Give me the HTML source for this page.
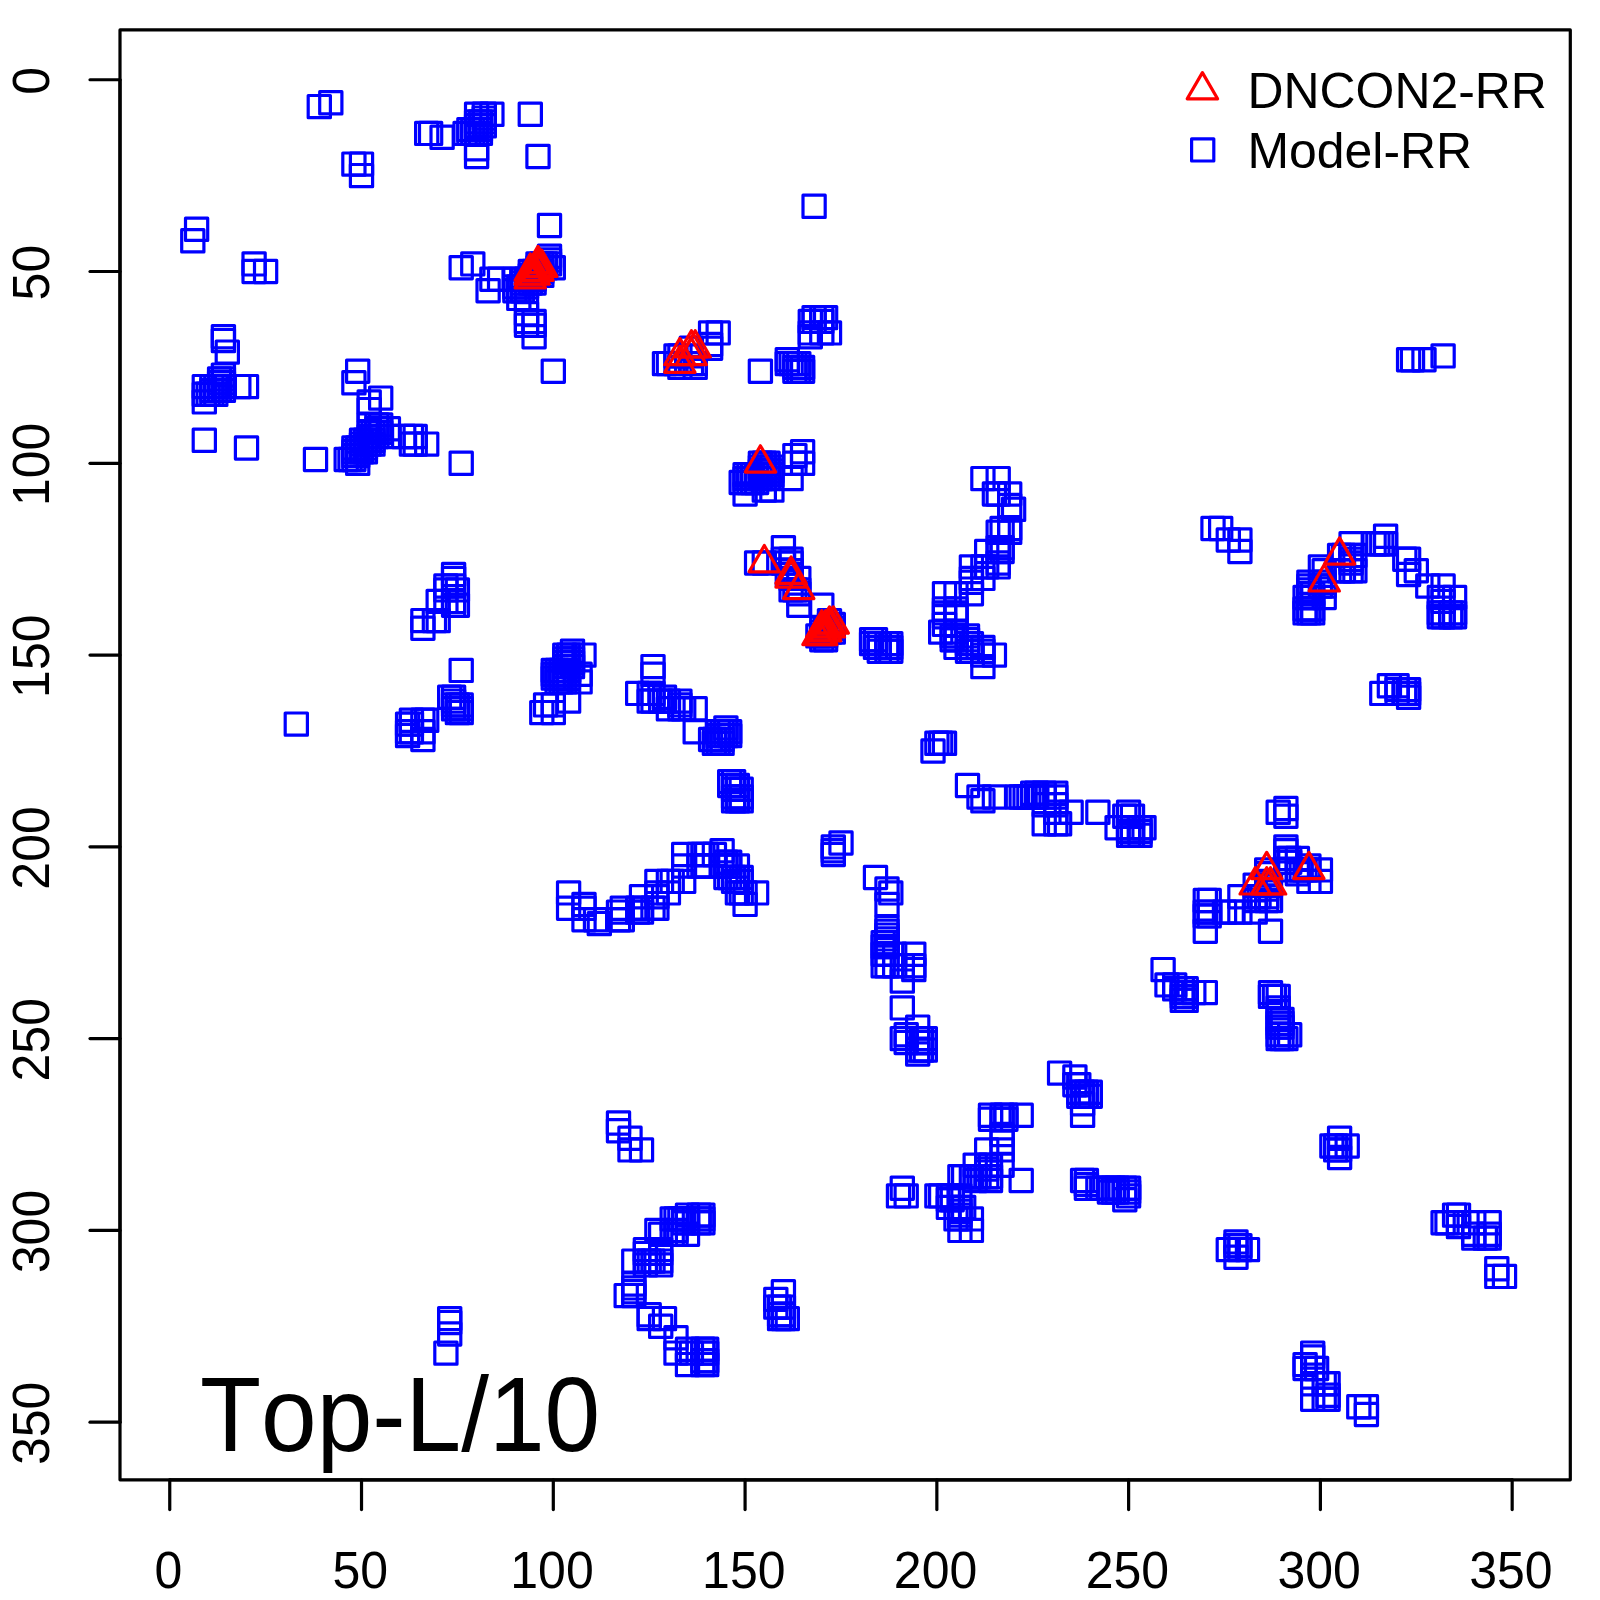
<!DOCTYPE html>
<html><head><meta charset="utf-8"><title>Top-L/10</title>
<style>
html,body{margin:0;padding:0;background:#fff;}
body{width:1600px;height:1600px;overflow:hidden;}
svg{display:block;}
text{font-family:"Liberation Sans",sans-serif;fill:#000;}
.ax{font-size:50px;}
.lg{font-size:49.9px;}
.sq rect{fill:none;stroke:#0000ff;stroke-width:3.2;stroke-linejoin:round}
  .tr path{fill:none;stroke:#ff0000;stroke-width:3.2;stroke-linejoin:round}
.ln{stroke:#000;stroke-width:3.2;stroke-linecap:round;fill:none}
</style></head><body>
<svg width="1600" height="1600" viewBox="0 0 1600 1600">
<rect x="0" y="0" width="1600" height="1600" fill="#fff"/>

<g class="sq">
<rect x="308.2" y="95.5" width="22.2" height="22.2"/>
<rect x="319.7" y="91.7" width="22.2" height="22.2"/>
<rect x="342.8" y="153.0" width="22.2" height="22.2"/>
<rect x="350.4" y="153.0" width="22.2" height="22.2"/>
<rect x="350.4" y="164.5" width="22.2" height="22.2"/>
<rect x="415.6" y="122.3" width="22.2" height="22.2"/>
<rect x="419.5" y="122.3" width="22.2" height="22.2"/>
<rect x="431.0" y="126.2" width="22.2" height="22.2"/>
<rect x="450.1" y="256.6" width="22.2" height="22.2"/>
<rect x="454.0" y="122.3" width="22.2" height="22.2"/>
<rect x="457.8" y="118.5" width="22.2" height="22.2"/>
<rect x="457.8" y="122.3" width="22.2" height="22.2"/>
<rect x="461.7" y="118.5" width="22.2" height="22.2"/>
<rect x="461.7" y="122.3" width="22.2" height="22.2"/>
<rect x="461.7" y="252.8" width="22.2" height="22.2"/>
<rect x="465.5" y="103.2" width="22.2" height="22.2"/>
<rect x="465.5" y="110.8" width="22.2" height="22.2"/>
<rect x="465.5" y="114.7" width="22.2" height="22.2"/>
<rect x="465.5" y="118.5" width="22.2" height="22.2"/>
<rect x="465.5" y="122.3" width="22.2" height="22.2"/>
<rect x="465.5" y="137.7" width="22.2" height="22.2"/>
<rect x="465.5" y="145.4" width="22.2" height="22.2"/>
<rect x="469.3" y="110.8" width="22.2" height="22.2"/>
<rect x="469.3" y="114.7" width="22.2" height="22.2"/>
<rect x="469.3" y="118.5" width="22.2" height="22.2"/>
<rect x="469.3" y="122.3" width="22.2" height="22.2"/>
<rect x="473.2" y="103.2" width="22.2" height="22.2"/>
<rect x="473.2" y="107.0" width="22.2" height="22.2"/>
<rect x="473.2" y="110.8" width="22.2" height="22.2"/>
<rect x="473.2" y="114.7" width="22.2" height="22.2"/>
<rect x="477.0" y="279.6" width="22.2" height="22.2"/>
<rect x="480.8" y="103.2" width="22.2" height="22.2"/>
<rect x="480.8" y="268.1" width="22.2" height="22.2"/>
<rect x="488.5" y="268.1" width="22.2" height="22.2"/>
<rect x="503.8" y="268.1" width="22.2" height="22.2"/>
<rect x="503.8" y="275.8" width="22.2" height="22.2"/>
<rect x="503.8" y="279.6" width="22.2" height="22.2"/>
<rect x="507.7" y="275.8" width="22.2" height="22.2"/>
<rect x="507.7" y="279.6" width="22.2" height="22.2"/>
<rect x="507.7" y="287.3" width="22.2" height="22.2"/>
<rect x="511.5" y="268.1" width="22.2" height="22.2"/>
<rect x="511.5" y="271.9" width="22.2" height="22.2"/>
<rect x="511.5" y="275.8" width="22.2" height="22.2"/>
<rect x="511.5" y="279.6" width="22.2" height="22.2"/>
<rect x="515.4" y="268.1" width="22.2" height="22.2"/>
<rect x="515.4" y="271.9" width="22.2" height="22.2"/>
<rect x="515.4" y="275.8" width="22.2" height="22.2"/>
<rect x="515.4" y="287.3" width="22.2" height="22.2"/>
<rect x="515.4" y="302.6" width="22.2" height="22.2"/>
<rect x="515.4" y="310.3" width="22.2" height="22.2"/>
<rect x="515.4" y="314.1" width="22.2" height="22.2"/>
<rect x="519.2" y="103.2" width="22.2" height="22.2"/>
<rect x="519.2" y="260.4" width="22.2" height="22.2"/>
<rect x="519.2" y="264.3" width="22.2" height="22.2"/>
<rect x="519.2" y="268.1" width="22.2" height="22.2"/>
<rect x="519.2" y="271.9" width="22.2" height="22.2"/>
<rect x="523.0" y="260.4" width="22.2" height="22.2"/>
<rect x="523.0" y="264.3" width="22.2" height="22.2"/>
<rect x="523.0" y="268.1" width="22.2" height="22.2"/>
<rect x="523.0" y="271.9" width="22.2" height="22.2"/>
<rect x="523.0" y="310.3" width="22.2" height="22.2"/>
<rect x="523.0" y="314.1" width="22.2" height="22.2"/>
<rect x="523.0" y="325.6" width="22.2" height="22.2"/>
<rect x="526.9" y="145.4" width="22.2" height="22.2"/>
<rect x="526.9" y="252.8" width="22.2" height="22.2"/>
<rect x="526.9" y="256.6" width="22.2" height="22.2"/>
<rect x="526.9" y="260.4" width="22.2" height="22.2"/>
<rect x="526.9" y="264.3" width="22.2" height="22.2"/>
<rect x="530.7" y="252.8" width="22.2" height="22.2"/>
<rect x="530.7" y="256.6" width="22.2" height="22.2"/>
<rect x="530.7" y="260.4" width="22.2" height="22.2"/>
<rect x="530.7" y="264.3" width="22.2" height="22.2"/>
<rect x="534.5" y="252.8" width="22.2" height="22.2"/>
<rect x="534.5" y="256.6" width="22.2" height="22.2"/>
<rect x="538.4" y="214.4" width="22.2" height="22.2"/>
<rect x="538.4" y="245.1" width="22.2" height="22.2"/>
<rect x="538.4" y="248.9" width="22.2" height="22.2"/>
<rect x="538.4" y="252.8" width="22.2" height="22.2"/>
<rect x="542.2" y="256.6" width="22.2" height="22.2"/>
<rect x="542.2" y="360.1" width="22.2" height="22.2"/>
<rect x="653.4" y="352.5" width="22.2" height="22.2"/>
<rect x="657.3" y="352.5" width="22.2" height="22.2"/>
<rect x="664.9" y="344.8" width="22.2" height="22.2"/>
<rect x="664.9" y="352.5" width="22.2" height="22.2"/>
<rect x="668.8" y="344.8" width="22.2" height="22.2"/>
<rect x="668.8" y="356.3" width="22.2" height="22.2"/>
<rect x="680.3" y="337.1" width="22.2" height="22.2"/>
<rect x="680.3" y="344.8" width="22.2" height="22.2"/>
<rect x="680.3" y="352.5" width="22.2" height="22.2"/>
<rect x="684.1" y="352.5" width="22.2" height="22.2"/>
<rect x="684.1" y="356.3" width="22.2" height="22.2"/>
<rect x="699.5" y="321.8" width="22.2" height="22.2"/>
<rect x="699.5" y="333.3" width="22.2" height="22.2"/>
<rect x="699.5" y="337.1" width="22.2" height="22.2"/>
<rect x="707.1" y="321.8" width="22.2" height="22.2"/>
<rect x="730.1" y="471.4" width="22.2" height="22.2"/>
<rect x="734.0" y="463.7" width="22.2" height="22.2"/>
<rect x="734.0" y="467.5" width="22.2" height="22.2"/>
<rect x="734.0" y="471.4" width="22.2" height="22.2"/>
<rect x="734.0" y="482.9" width="22.2" height="22.2"/>
<rect x="737.8" y="463.7" width="22.2" height="22.2"/>
<rect x="737.8" y="467.5" width="22.2" height="22.2"/>
<rect x="737.8" y="471.4" width="22.2" height="22.2"/>
<rect x="741.6" y="463.7" width="22.2" height="22.2"/>
<rect x="741.6" y="467.5" width="22.2" height="22.2"/>
<rect x="741.6" y="471.4" width="22.2" height="22.2"/>
<rect x="745.5" y="463.7" width="22.2" height="22.2"/>
<rect x="745.5" y="467.5" width="22.2" height="22.2"/>
<rect x="745.5" y="471.4" width="22.2" height="22.2"/>
<rect x="745.5" y="551.9" width="22.2" height="22.2"/>
<rect x="749.3" y="360.1" width="22.2" height="22.2"/>
<rect x="749.3" y="452.2" width="22.2" height="22.2"/>
<rect x="749.3" y="456.0" width="22.2" height="22.2"/>
<rect x="749.3" y="459.9" width="22.2" height="22.2"/>
<rect x="749.3" y="463.7" width="22.2" height="22.2"/>
<rect x="749.3" y="467.5" width="22.2" height="22.2"/>
<rect x="753.2" y="452.2" width="22.2" height="22.2"/>
<rect x="753.2" y="456.0" width="22.2" height="22.2"/>
<rect x="753.2" y="459.9" width="22.2" height="22.2"/>
<rect x="753.2" y="463.7" width="22.2" height="22.2"/>
<rect x="753.2" y="467.5" width="22.2" height="22.2"/>
<rect x="753.2" y="479.0" width="22.2" height="22.2"/>
<rect x="753.2" y="551.9" width="22.2" height="22.2"/>
<rect x="757.0" y="452.2" width="22.2" height="22.2"/>
<rect x="757.0" y="456.0" width="22.2" height="22.2"/>
<rect x="757.0" y="459.9" width="22.2" height="22.2"/>
<rect x="757.0" y="463.7" width="22.2" height="22.2"/>
<rect x="757.0" y="467.5" width="22.2" height="22.2"/>
<rect x="760.8" y="456.0" width="22.2" height="22.2"/>
<rect x="760.8" y="459.9" width="22.2" height="22.2"/>
<rect x="760.8" y="463.7" width="22.2" height="22.2"/>
<rect x="760.8" y="479.0" width="22.2" height="22.2"/>
<rect x="772.3" y="536.6" width="22.2" height="22.2"/>
<rect x="772.3" y="548.1" width="22.2" height="22.2"/>
<rect x="772.3" y="551.9" width="22.2" height="22.2"/>
<rect x="776.2" y="348.6" width="22.2" height="22.2"/>
<rect x="776.2" y="352.5" width="22.2" height="22.2"/>
<rect x="776.2" y="563.4" width="22.2" height="22.2"/>
<rect x="780.0" y="352.5" width="22.2" height="22.2"/>
<rect x="780.0" y="467.5" width="22.2" height="22.2"/>
<rect x="780.0" y="548.1" width="22.2" height="22.2"/>
<rect x="780.0" y="551.9" width="22.2" height="22.2"/>
<rect x="780.0" y="559.6" width="22.2" height="22.2"/>
<rect x="780.0" y="563.4" width="22.2" height="22.2"/>
<rect x="780.0" y="567.3" width="22.2" height="22.2"/>
<rect x="780.0" y="578.8" width="22.2" height="22.2"/>
<rect x="783.8" y="352.5" width="22.2" height="22.2"/>
<rect x="783.8" y="356.3" width="22.2" height="22.2"/>
<rect x="783.8" y="360.1" width="22.2" height="22.2"/>
<rect x="783.8" y="444.5" width="22.2" height="22.2"/>
<rect x="783.8" y="452.2" width="22.2" height="22.2"/>
<rect x="783.8" y="578.8" width="22.2" height="22.2"/>
<rect x="787.7" y="352.5" width="22.2" height="22.2"/>
<rect x="787.7" y="356.3" width="22.2" height="22.2"/>
<rect x="787.7" y="360.1" width="22.2" height="22.2"/>
<rect x="787.7" y="567.3" width="22.2" height="22.2"/>
<rect x="787.7" y="578.8" width="22.2" height="22.2"/>
<rect x="787.7" y="582.6" width="22.2" height="22.2"/>
<rect x="787.7" y="594.1" width="22.2" height="22.2"/>
<rect x="791.5" y="356.3" width="22.2" height="22.2"/>
<rect x="791.5" y="360.1" width="22.2" height="22.2"/>
<rect x="791.5" y="440.7" width="22.2" height="22.2"/>
<rect x="791.5" y="452.2" width="22.2" height="22.2"/>
<rect x="799.2" y="310.3" width="22.2" height="22.2"/>
<rect x="799.2" y="321.8" width="22.2" height="22.2"/>
<rect x="799.2" y="325.6" width="22.2" height="22.2"/>
<rect x="803.0" y="195.2" width="22.2" height="22.2"/>
<rect x="803.0" y="306.5" width="22.2" height="22.2"/>
<rect x="803.0" y="310.3" width="22.2" height="22.2"/>
<rect x="806.8" y="624.8" width="22.2" height="22.2"/>
<rect x="810.7" y="306.5" width="22.2" height="22.2"/>
<rect x="810.7" y="310.3" width="22.2" height="22.2"/>
<rect x="810.7" y="321.8" width="22.2" height="22.2"/>
<rect x="810.7" y="594.1" width="22.2" height="22.2"/>
<rect x="810.7" y="617.1" width="22.2" height="22.2"/>
<rect x="810.7" y="621.0" width="22.2" height="22.2"/>
<rect x="810.7" y="624.8" width="22.2" height="22.2"/>
<rect x="810.7" y="628.6" width="22.2" height="22.2"/>
<rect x="814.5" y="306.5" width="22.2" height="22.2"/>
<rect x="814.5" y="617.1" width="22.2" height="22.2"/>
<rect x="814.5" y="621.0" width="22.2" height="22.2"/>
<rect x="814.5" y="624.8" width="22.2" height="22.2"/>
<rect x="814.5" y="628.6" width="22.2" height="22.2"/>
<rect x="818.4" y="321.8" width="22.2" height="22.2"/>
<rect x="818.4" y="609.5" width="22.2" height="22.2"/>
<rect x="818.4" y="613.3" width="22.2" height="22.2"/>
<rect x="818.4" y="617.1" width="22.2" height="22.2"/>
<rect x="818.4" y="621.0" width="22.2" height="22.2"/>
<rect x="822.2" y="613.3" width="22.2" height="22.2"/>
<rect x="822.2" y="617.1" width="22.2" height="22.2"/>
<rect x="822.2" y="621.0" width="22.2" height="22.2"/>
<rect x="860.5" y="628.6" width="22.2" height="22.2"/>
<rect x="860.5" y="632.5" width="22.2" height="22.2"/>
<rect x="864.4" y="628.6" width="22.2" height="22.2"/>
<rect x="864.4" y="632.5" width="22.2" height="22.2"/>
<rect x="864.4" y="636.3" width="22.2" height="22.2"/>
<rect x="868.2" y="632.5" width="22.2" height="22.2"/>
<rect x="868.2" y="636.3" width="22.2" height="22.2"/>
<rect x="868.2" y="640.1" width="22.2" height="22.2"/>
<rect x="875.9" y="632.5" width="22.2" height="22.2"/>
<rect x="875.9" y="636.3" width="22.2" height="22.2"/>
<rect x="875.9" y="640.1" width="22.2" height="22.2"/>
<rect x="879.7" y="632.5" width="22.2" height="22.2"/>
<rect x="879.7" y="636.3" width="22.2" height="22.2"/>
<rect x="879.7" y="640.1" width="22.2" height="22.2"/>
<rect x="921.9" y="739.9" width="22.2" height="22.2"/>
<rect x="925.8" y="732.2" width="22.2" height="22.2"/>
<rect x="929.6" y="621.0" width="22.2" height="22.2"/>
<rect x="929.6" y="732.2" width="22.2" height="22.2"/>
<rect x="933.4" y="582.6" width="22.2" height="22.2"/>
<rect x="933.4" y="597.9" width="22.2" height="22.2"/>
<rect x="933.4" y="601.8" width="22.2" height="22.2"/>
<rect x="933.4" y="605.6" width="22.2" height="22.2"/>
<rect x="933.4" y="613.3" width="22.2" height="22.2"/>
<rect x="933.4" y="732.2" width="22.2" height="22.2"/>
<rect x="941.1" y="624.8" width="22.2" height="22.2"/>
<rect x="941.1" y="628.6" width="22.2" height="22.2"/>
<rect x="944.9" y="582.6" width="22.2" height="22.2"/>
<rect x="944.9" y="597.9" width="22.2" height="22.2"/>
<rect x="944.9" y="601.8" width="22.2" height="22.2"/>
<rect x="944.9" y="605.6" width="22.2" height="22.2"/>
<rect x="944.9" y="621.0" width="22.2" height="22.2"/>
<rect x="944.9" y="624.8" width="22.2" height="22.2"/>
<rect x="944.9" y="628.6" width="22.2" height="22.2"/>
<rect x="944.9" y="636.3" width="22.2" height="22.2"/>
<rect x="956.4" y="624.8" width="22.2" height="22.2"/>
<rect x="956.4" y="628.6" width="22.2" height="22.2"/>
<rect x="956.4" y="632.5" width="22.2" height="22.2"/>
<rect x="956.4" y="636.3" width="22.2" height="22.2"/>
<rect x="956.4" y="640.1" width="22.2" height="22.2"/>
<rect x="956.4" y="774.4" width="22.2" height="22.2"/>
<rect x="960.3" y="555.8" width="22.2" height="22.2"/>
<rect x="960.3" y="567.3" width="22.2" height="22.2"/>
<rect x="960.3" y="571.1" width="22.2" height="22.2"/>
<rect x="960.3" y="582.6" width="22.2" height="22.2"/>
<rect x="960.3" y="632.5" width="22.2" height="22.2"/>
<rect x="960.3" y="636.3" width="22.2" height="22.2"/>
<rect x="960.3" y="640.1" width="22.2" height="22.2"/>
<rect x="967.9" y="785.9" width="22.2" height="22.2"/>
<rect x="971.8" y="467.5" width="22.2" height="22.2"/>
<rect x="971.8" y="555.8" width="22.2" height="22.2"/>
<rect x="971.8" y="567.3" width="22.2" height="22.2"/>
<rect x="971.8" y="636.3" width="22.2" height="22.2"/>
<rect x="971.8" y="640.1" width="22.2" height="22.2"/>
<rect x="971.8" y="644.0" width="22.2" height="22.2"/>
<rect x="971.8" y="655.5" width="22.2" height="22.2"/>
<rect x="971.8" y="789.7" width="22.2" height="22.2"/>
<rect x="975.6" y="540.4" width="22.2" height="22.2"/>
<rect x="975.6" y="555.8" width="22.2" height="22.2"/>
<rect x="983.3" y="482.9" width="22.2" height="22.2"/>
<rect x="983.3" y="644.0" width="22.2" height="22.2"/>
<rect x="983.3" y="785.9" width="22.2" height="22.2"/>
<rect x="987.1" y="467.5" width="22.2" height="22.2"/>
<rect x="987.1" y="482.9" width="22.2" height="22.2"/>
<rect x="987.1" y="521.2" width="22.2" height="22.2"/>
<rect x="987.1" y="536.6" width="22.2" height="22.2"/>
<rect x="987.1" y="540.4" width="22.2" height="22.2"/>
<rect x="987.1" y="551.9" width="22.2" height="22.2"/>
<rect x="987.1" y="555.8" width="22.2" height="22.2"/>
<rect x="991.0" y="517.4" width="22.2" height="22.2"/>
<rect x="991.0" y="536.6" width="22.2" height="22.2"/>
<rect x="991.0" y="540.4" width="22.2" height="22.2"/>
<rect x="998.6" y="482.9" width="22.2" height="22.2"/>
<rect x="998.6" y="494.4" width="22.2" height="22.2"/>
<rect x="998.6" y="517.4" width="22.2" height="22.2"/>
<rect x="998.6" y="521.2" width="22.2" height="22.2"/>
<rect x="1002.5" y="498.2" width="22.2" height="22.2"/>
<rect x="1006.3" y="785.9" width="22.2" height="22.2"/>
<rect x="1010.1" y="785.9" width="22.2" height="22.2"/>
<rect x="1014.0" y="785.9" width="22.2" height="22.2"/>
<rect x="1017.8" y="785.9" width="22.2" height="22.2"/>
<rect x="1021.6" y="782.1" width="22.2" height="22.2"/>
<rect x="1021.6" y="785.9" width="22.2" height="22.2"/>
<rect x="1025.5" y="782.1" width="22.2" height="22.2"/>
<rect x="1025.5" y="785.9" width="22.2" height="22.2"/>
<rect x="1033.1" y="782.1" width="22.2" height="22.2"/>
<rect x="1033.1" y="785.9" width="22.2" height="22.2"/>
<rect x="1033.1" y="793.6" width="22.2" height="22.2"/>
<rect x="1033.1" y="812.7" width="22.2" height="22.2"/>
<rect x="1044.7" y="782.1" width="22.2" height="22.2"/>
<rect x="1044.7" y="785.9" width="22.2" height="22.2"/>
<rect x="1044.7" y="793.6" width="22.2" height="22.2"/>
<rect x="1044.7" y="801.2" width="22.2" height="22.2"/>
<rect x="1044.7" y="812.7" width="22.2" height="22.2"/>
<rect x="1048.5" y="812.7" width="22.2" height="22.2"/>
<rect x="1060.0" y="801.2" width="22.2" height="22.2"/>
<rect x="1086.8" y="801.2" width="22.2" height="22.2"/>
<rect x="1106.0" y="816.6" width="22.2" height="22.2"/>
<rect x="1113.7" y="805.1" width="22.2" height="22.2"/>
<rect x="1117.5" y="801.2" width="22.2" height="22.2"/>
<rect x="1117.5" y="816.6" width="22.2" height="22.2"/>
<rect x="1117.5" y="820.4" width="22.2" height="22.2"/>
<rect x="1117.5" y="824.2" width="22.2" height="22.2"/>
<rect x="1121.4" y="805.1" width="22.2" height="22.2"/>
<rect x="1121.4" y="816.6" width="22.2" height="22.2"/>
<rect x="1121.4" y="820.4" width="22.2" height="22.2"/>
<rect x="1121.4" y="824.2" width="22.2" height="22.2"/>
<rect x="1129.0" y="816.6" width="22.2" height="22.2"/>
<rect x="1129.0" y="820.4" width="22.2" height="22.2"/>
<rect x="1129.0" y="824.2" width="22.2" height="22.2"/>
<rect x="1132.9" y="816.6" width="22.2" height="22.2"/>
<rect x="1152.0" y="958.5" width="22.2" height="22.2"/>
<rect x="1155.9" y="973.8" width="22.2" height="22.2"/>
<rect x="1163.6" y="973.8" width="22.2" height="22.2"/>
<rect x="1163.6" y="977.7" width="22.2" height="22.2"/>
<rect x="1171.2" y="977.7" width="22.2" height="22.2"/>
<rect x="1171.2" y="981.5" width="22.2" height="22.2"/>
<rect x="1171.2" y="985.3" width="22.2" height="22.2"/>
<rect x="1171.2" y="989.2" width="22.2" height="22.2"/>
<rect x="1175.1" y="977.7" width="22.2" height="22.2"/>
<rect x="1175.1" y="981.5" width="22.2" height="22.2"/>
<rect x="1175.1" y="985.3" width="22.2" height="22.2"/>
<rect x="1175.1" y="989.2" width="22.2" height="22.2"/>
<rect x="1182.7" y="981.5" width="22.2" height="22.2"/>
<rect x="1194.2" y="889.4" width="22.2" height="22.2"/>
<rect x="1194.2" y="901.0" width="22.2" height="22.2"/>
<rect x="1194.2" y="904.8" width="22.2" height="22.2"/>
<rect x="1194.2" y="920.1" width="22.2" height="22.2"/>
<rect x="1194.2" y="981.5" width="22.2" height="22.2"/>
<rect x="1198.1" y="889.4" width="22.2" height="22.2"/>
<rect x="1198.1" y="901.0" width="22.2" height="22.2"/>
<rect x="1198.1" y="904.8" width="22.2" height="22.2"/>
<rect x="1201.9" y="517.4" width="22.2" height="22.2"/>
<rect x="1209.6" y="517.4" width="22.2" height="22.2"/>
<rect x="1213.4" y="901.0" width="22.2" height="22.2"/>
<rect x="1217.2" y="528.9" width="22.2" height="22.2"/>
<rect x="1221.1" y="901.0" width="22.2" height="22.2"/>
<rect x="1228.8" y="528.9" width="22.2" height="22.2"/>
<rect x="1228.8" y="540.4" width="22.2" height="22.2"/>
<rect x="1228.8" y="885.6" width="22.2" height="22.2"/>
<rect x="1228.8" y="901.0" width="22.2" height="22.2"/>
<rect x="1244.1" y="874.1" width="22.2" height="22.2"/>
<rect x="1244.1" y="885.6" width="22.2" height="22.2"/>
<rect x="1244.1" y="889.4" width="22.2" height="22.2"/>
<rect x="1244.1" y="901.0" width="22.2" height="22.2"/>
<rect x="1247.9" y="885.6" width="22.2" height="22.2"/>
<rect x="1255.6" y="858.8" width="22.2" height="22.2"/>
<rect x="1255.6" y="862.6" width="22.2" height="22.2"/>
<rect x="1255.6" y="870.3" width="22.2" height="22.2"/>
<rect x="1255.6" y="874.1" width="22.2" height="22.2"/>
<rect x="1255.6" y="877.9" width="22.2" height="22.2"/>
<rect x="1255.6" y="885.6" width="22.2" height="22.2"/>
<rect x="1255.6" y="889.4" width="22.2" height="22.2"/>
<rect x="1259.4" y="874.1" width="22.2" height="22.2"/>
<rect x="1259.4" y="889.4" width="22.2" height="22.2"/>
<rect x="1259.4" y="920.1" width="22.2" height="22.2"/>
<rect x="1259.4" y="981.5" width="22.2" height="22.2"/>
<rect x="1259.4" y="985.3" width="22.2" height="22.2"/>
<rect x="1263.3" y="985.3" width="22.2" height="22.2"/>
<rect x="1267.1" y="801.2" width="22.2" height="22.2"/>
<rect x="1267.1" y="985.3" width="22.2" height="22.2"/>
<rect x="1267.1" y="996.8" width="22.2" height="22.2"/>
<rect x="1267.1" y="1000.7" width="22.2" height="22.2"/>
<rect x="1267.1" y="1008.3" width="22.2" height="22.2"/>
<rect x="1267.1" y="1012.2" width="22.2" height="22.2"/>
<rect x="1267.1" y="1016.0" width="22.2" height="22.2"/>
<rect x="1267.1" y="1023.7" width="22.2" height="22.2"/>
<rect x="1267.1" y="1027.5" width="22.2" height="22.2"/>
<rect x="1270.9" y="1008.3" width="22.2" height="22.2"/>
<rect x="1270.9" y="1012.2" width="22.2" height="22.2"/>
<rect x="1270.9" y="1016.0" width="22.2" height="22.2"/>
<rect x="1270.9" y="1027.5" width="22.2" height="22.2"/>
<rect x="1274.8" y="797.4" width="22.2" height="22.2"/>
<rect x="1274.8" y="805.1" width="22.2" height="22.2"/>
<rect x="1274.8" y="835.8" width="22.2" height="22.2"/>
<rect x="1274.8" y="839.6" width="22.2" height="22.2"/>
<rect x="1274.8" y="847.3" width="22.2" height="22.2"/>
<rect x="1274.8" y="851.1" width="22.2" height="22.2"/>
<rect x="1274.8" y="858.8" width="22.2" height="22.2"/>
<rect x="1274.8" y="1027.5" width="22.2" height="22.2"/>
<rect x="1278.6" y="847.3" width="22.2" height="22.2"/>
<rect x="1278.6" y="851.1" width="22.2" height="22.2"/>
<rect x="1278.6" y="1023.7" width="22.2" height="22.2"/>
<rect x="1286.3" y="847.3" width="22.2" height="22.2"/>
<rect x="1286.3" y="858.8" width="22.2" height="22.2"/>
<rect x="1286.3" y="862.6" width="22.2" height="22.2"/>
<rect x="1290.1" y="858.8" width="22.2" height="22.2"/>
<rect x="1294.0" y="586.4" width="22.2" height="22.2"/>
<rect x="1294.0" y="597.9" width="22.2" height="22.2"/>
<rect x="1294.0" y="601.8" width="22.2" height="22.2"/>
<rect x="1294.0" y="858.8" width="22.2" height="22.2"/>
<rect x="1297.8" y="571.1" width="22.2" height="22.2"/>
<rect x="1297.8" y="574.9" width="22.2" height="22.2"/>
<rect x="1297.8" y="578.8" width="22.2" height="22.2"/>
<rect x="1297.8" y="582.6" width="22.2" height="22.2"/>
<rect x="1297.8" y="586.4" width="22.2" height="22.2"/>
<rect x="1297.8" y="597.9" width="22.2" height="22.2"/>
<rect x="1297.8" y="601.8" width="22.2" height="22.2"/>
<rect x="1297.8" y="854.9" width="22.2" height="22.2"/>
<rect x="1297.8" y="858.8" width="22.2" height="22.2"/>
<rect x="1297.8" y="870.3" width="22.2" height="22.2"/>
<rect x="1301.6" y="582.6" width="22.2" height="22.2"/>
<rect x="1301.6" y="586.4" width="22.2" height="22.2"/>
<rect x="1301.6" y="597.9" width="22.2" height="22.2"/>
<rect x="1301.6" y="601.8" width="22.2" height="22.2"/>
<rect x="1309.3" y="555.8" width="22.2" height="22.2"/>
<rect x="1309.3" y="574.9" width="22.2" height="22.2"/>
<rect x="1309.3" y="858.8" width="22.2" height="22.2"/>
<rect x="1309.3" y="870.3" width="22.2" height="22.2"/>
<rect x="1313.1" y="559.6" width="22.2" height="22.2"/>
<rect x="1313.1" y="571.1" width="22.2" height="22.2"/>
<rect x="1313.1" y="574.9" width="22.2" height="22.2"/>
<rect x="1313.1" y="586.4" width="22.2" height="22.2"/>
<rect x="1320.8" y="1134.9" width="22.2" height="22.2"/>
<rect x="1324.6" y="1134.9" width="22.2" height="22.2"/>
<rect x="1324.6" y="1138.8" width="22.2" height="22.2"/>
<rect x="1328.5" y="544.3" width="22.2" height="22.2"/>
<rect x="1328.5" y="559.6" width="22.2" height="22.2"/>
<rect x="1328.5" y="1127.2" width="22.2" height="22.2"/>
<rect x="1328.5" y="1138.8" width="22.2" height="22.2"/>
<rect x="1328.5" y="1146.4" width="22.2" height="22.2"/>
<rect x="1332.3" y="544.3" width="22.2" height="22.2"/>
<rect x="1332.3" y="559.6" width="22.2" height="22.2"/>
<rect x="1336.1" y="1134.9" width="22.2" height="22.2"/>
<rect x="1340.0" y="532.7" width="22.2" height="22.2"/>
<rect x="1340.0" y="544.3" width="22.2" height="22.2"/>
<rect x="1340.0" y="548.1" width="22.2" height="22.2"/>
<rect x="1340.0" y="551.9" width="22.2" height="22.2"/>
<rect x="1340.0" y="559.6" width="22.2" height="22.2"/>
<rect x="1343.8" y="544.3" width="22.2" height="22.2"/>
<rect x="1343.8" y="559.6" width="22.2" height="22.2"/>
<rect x="1363.0" y="532.7" width="22.2" height="22.2"/>
<rect x="1366.8" y="532.7" width="22.2" height="22.2"/>
<rect x="1370.7" y="532.7" width="22.2" height="22.2"/>
<rect x="1370.7" y="682.3" width="22.2" height="22.2"/>
<rect x="1374.5" y="525.1" width="22.2" height="22.2"/>
<rect x="1374.5" y="532.7" width="22.2" height="22.2"/>
<rect x="1378.3" y="674.7" width="22.2" height="22.2"/>
<rect x="1386.0" y="674.7" width="22.2" height="22.2"/>
<rect x="1386.0" y="678.5" width="22.2" height="22.2"/>
<rect x="1386.0" y="682.3" width="22.2" height="22.2"/>
<rect x="1393.7" y="548.1" width="22.2" height="22.2"/>
<rect x="1393.7" y="678.5" width="22.2" height="22.2"/>
<rect x="1393.7" y="682.3" width="22.2" height="22.2"/>
<rect x="1397.5" y="348.6" width="22.2" height="22.2"/>
<rect x="1397.5" y="548.1" width="22.2" height="22.2"/>
<rect x="1397.5" y="563.4" width="22.2" height="22.2"/>
<rect x="1397.5" y="678.5" width="22.2" height="22.2"/>
<rect x="1397.5" y="682.3" width="22.2" height="22.2"/>
<rect x="1397.5" y="686.2" width="22.2" height="22.2"/>
<rect x="1401.4" y="348.6" width="22.2" height="22.2"/>
<rect x="1405.2" y="559.6" width="22.2" height="22.2"/>
<rect x="1412.9" y="348.6" width="22.2" height="22.2"/>
<rect x="1416.7" y="574.9" width="22.2" height="22.2"/>
<rect x="1428.2" y="586.4" width="22.2" height="22.2"/>
<rect x="1428.2" y="601.8" width="22.2" height="22.2"/>
<rect x="1428.2" y="605.6" width="22.2" height="22.2"/>
<rect x="1432.0" y="344.8" width="22.2" height="22.2"/>
<rect x="1432.0" y="574.9" width="22.2" height="22.2"/>
<rect x="1432.0" y="590.3" width="22.2" height="22.2"/>
<rect x="1432.0" y="601.8" width="22.2" height="22.2"/>
<rect x="1432.0" y="605.6" width="22.2" height="22.2"/>
<rect x="1432.0" y="1211.6" width="22.2" height="22.2"/>
<rect x="1435.9" y="1211.6" width="22.2" height="22.2"/>
<rect x="1439.7" y="601.8" width="22.2" height="22.2"/>
<rect x="1439.7" y="605.6" width="22.2" height="22.2"/>
<rect x="1443.5" y="586.4" width="22.2" height="22.2"/>
<rect x="1443.5" y="601.8" width="22.2" height="22.2"/>
<rect x="1443.5" y="605.6" width="22.2" height="22.2"/>
<rect x="1443.5" y="1204.0" width="22.2" height="22.2"/>
<rect x="1447.4" y="1204.0" width="22.2" height="22.2"/>
<rect x="1447.4" y="1211.6" width="22.2" height="22.2"/>
<rect x="1447.4" y="1215.5" width="22.2" height="22.2"/>
<rect x="1462.7" y="1211.6" width="22.2" height="22.2"/>
<rect x="1462.7" y="1223.1" width="22.2" height="22.2"/>
<rect x="1462.7" y="1227.0" width="22.2" height="22.2"/>
<rect x="1474.2" y="1227.0" width="22.2" height="22.2"/>
<rect x="1478.1" y="1211.6" width="22.2" height="22.2"/>
<rect x="1478.1" y="1223.1" width="22.2" height="22.2"/>
<rect x="1478.1" y="1227.0" width="22.2" height="22.2"/>
<rect x="1485.7" y="1257.7" width="22.2" height="22.2"/>
<rect x="1485.7" y="1265.3" width="22.2" height="22.2"/>
<rect x="1493.4" y="1265.3" width="22.2" height="22.2"/>
<rect x="185.5" y="218.2" width="22.2" height="22.2"/>
<rect x="181.7" y="229.7" width="22.2" height="22.2"/>
<rect x="243.0" y="252.8" width="22.2" height="22.2"/>
<rect x="243.0" y="260.4" width="22.2" height="22.2"/>
<rect x="254.5" y="260.4" width="22.2" height="22.2"/>
<rect x="212.3" y="325.6" width="22.2" height="22.2"/>
<rect x="212.3" y="329.5" width="22.2" height="22.2"/>
<rect x="216.2" y="341.0" width="22.2" height="22.2"/>
<rect x="346.6" y="360.1" width="22.2" height="22.2"/>
<rect x="212.3" y="364.0" width="22.2" height="22.2"/>
<rect x="208.5" y="367.8" width="22.2" height="22.2"/>
<rect x="212.3" y="367.8" width="22.2" height="22.2"/>
<rect x="208.5" y="371.7" width="22.2" height="22.2"/>
<rect x="212.3" y="371.7" width="22.2" height="22.2"/>
<rect x="342.8" y="371.7" width="22.2" height="22.2"/>
<rect x="193.2" y="375.5" width="22.2" height="22.2"/>
<rect x="200.8" y="375.5" width="22.2" height="22.2"/>
<rect x="204.7" y="375.5" width="22.2" height="22.2"/>
<rect x="208.5" y="375.5" width="22.2" height="22.2"/>
<rect x="212.3" y="375.5" width="22.2" height="22.2"/>
<rect x="227.7" y="375.5" width="22.2" height="22.2"/>
<rect x="235.4" y="375.5" width="22.2" height="22.2"/>
<rect x="200.8" y="379.3" width="22.2" height="22.2"/>
<rect x="204.7" y="379.3" width="22.2" height="22.2"/>
<rect x="208.5" y="379.3" width="22.2" height="22.2"/>
<rect x="212.3" y="379.3" width="22.2" height="22.2"/>
<rect x="193.2" y="383.2" width="22.2" height="22.2"/>
<rect x="197.0" y="383.2" width="22.2" height="22.2"/>
<rect x="200.8" y="383.2" width="22.2" height="22.2"/>
<rect x="204.7" y="383.2" width="22.2" height="22.2"/>
<rect x="369.6" y="387.0" width="22.2" height="22.2"/>
<rect x="193.2" y="390.8" width="22.2" height="22.2"/>
<rect x="358.1" y="390.8" width="22.2" height="22.2"/>
<rect x="358.1" y="398.5" width="22.2" height="22.2"/>
<rect x="358.1" y="413.8" width="22.2" height="22.2"/>
<rect x="365.8" y="413.8" width="22.2" height="22.2"/>
<rect x="369.6" y="413.8" width="22.2" height="22.2"/>
<rect x="365.8" y="417.7" width="22.2" height="22.2"/>
<rect x="369.6" y="417.7" width="22.2" height="22.2"/>
<rect x="377.3" y="417.7" width="22.2" height="22.2"/>
<rect x="358.1" y="421.5" width="22.2" height="22.2"/>
<rect x="361.9" y="421.5" width="22.2" height="22.2"/>
<rect x="365.8" y="421.5" width="22.2" height="22.2"/>
<rect x="369.6" y="421.5" width="22.2" height="22.2"/>
<rect x="358.1" y="425.4" width="22.2" height="22.2"/>
<rect x="361.9" y="425.4" width="22.2" height="22.2"/>
<rect x="365.8" y="425.4" width="22.2" height="22.2"/>
<rect x="377.3" y="425.4" width="22.2" height="22.2"/>
<rect x="392.6" y="425.4" width="22.2" height="22.2"/>
<rect x="400.3" y="425.4" width="22.2" height="22.2"/>
<rect x="404.1" y="425.4" width="22.2" height="22.2"/>
<rect x="193.2" y="429.2" width="22.2" height="22.2"/>
<rect x="350.4" y="429.2" width="22.2" height="22.2"/>
<rect x="354.3" y="429.2" width="22.2" height="22.2"/>
<rect x="358.1" y="429.2" width="22.2" height="22.2"/>
<rect x="361.9" y="429.2" width="22.2" height="22.2"/>
<rect x="350.4" y="433.0" width="22.2" height="22.2"/>
<rect x="354.3" y="433.0" width="22.2" height="22.2"/>
<rect x="358.1" y="433.0" width="22.2" height="22.2"/>
<rect x="361.9" y="433.0" width="22.2" height="22.2"/>
<rect x="400.3" y="433.0" width="22.2" height="22.2"/>
<rect x="404.1" y="433.0" width="22.2" height="22.2"/>
<rect x="415.6" y="433.0" width="22.2" height="22.2"/>
<rect x="235.4" y="436.9" width="22.2" height="22.2"/>
<rect x="342.8" y="436.9" width="22.2" height="22.2"/>
<rect x="346.6" y="436.9" width="22.2" height="22.2"/>
<rect x="350.4" y="436.9" width="22.2" height="22.2"/>
<rect x="354.3" y="436.9" width="22.2" height="22.2"/>
<rect x="342.8" y="440.7" width="22.2" height="22.2"/>
<rect x="346.6" y="440.7" width="22.2" height="22.2"/>
<rect x="350.4" y="440.7" width="22.2" height="22.2"/>
<rect x="354.3" y="440.7" width="22.2" height="22.2"/>
<rect x="342.8" y="444.5" width="22.2" height="22.2"/>
<rect x="346.6" y="444.5" width="22.2" height="22.2"/>
<rect x="304.4" y="448.4" width="22.2" height="22.2"/>
<rect x="335.1" y="448.4" width="22.2" height="22.2"/>
<rect x="338.9" y="448.4" width="22.2" height="22.2"/>
<rect x="342.8" y="448.4" width="22.2" height="22.2"/>
<rect x="346.6" y="452.2" width="22.2" height="22.2"/>
<rect x="450.1" y="452.2" width="22.2" height="22.2"/>
<rect x="442.5" y="563.4" width="22.2" height="22.2"/>
<rect x="442.5" y="567.3" width="22.2" height="22.2"/>
<rect x="434.8" y="574.9" width="22.2" height="22.2"/>
<rect x="442.5" y="574.9" width="22.2" height="22.2"/>
<rect x="434.8" y="578.8" width="22.2" height="22.2"/>
<rect x="446.3" y="578.8" width="22.2" height="22.2"/>
<rect x="427.1" y="590.3" width="22.2" height="22.2"/>
<rect x="434.8" y="590.3" width="22.2" height="22.2"/>
<rect x="442.5" y="590.3" width="22.2" height="22.2"/>
<rect x="442.5" y="594.1" width="22.2" height="22.2"/>
<rect x="446.3" y="594.1" width="22.2" height="22.2"/>
<rect x="411.8" y="609.5" width="22.2" height="22.2"/>
<rect x="423.3" y="609.5" width="22.2" height="22.2"/>
<rect x="427.1" y="609.5" width="22.2" height="22.2"/>
<rect x="411.8" y="617.1" width="22.2" height="22.2"/>
<rect x="561.4" y="640.1" width="22.2" height="22.2"/>
<rect x="553.7" y="644.0" width="22.2" height="22.2"/>
<rect x="557.5" y="644.0" width="22.2" height="22.2"/>
<rect x="561.4" y="644.0" width="22.2" height="22.2"/>
<rect x="572.9" y="644.0" width="22.2" height="22.2"/>
<rect x="553.7" y="647.8" width="22.2" height="22.2"/>
<rect x="557.5" y="647.8" width="22.2" height="22.2"/>
<rect x="561.4" y="647.8" width="22.2" height="22.2"/>
<rect x="553.7" y="651.6" width="22.2" height="22.2"/>
<rect x="557.5" y="651.6" width="22.2" height="22.2"/>
<rect x="561.4" y="651.6" width="22.2" height="22.2"/>
<rect x="553.7" y="655.5" width="22.2" height="22.2"/>
<rect x="557.5" y="655.5" width="22.2" height="22.2"/>
<rect x="561.4" y="655.5" width="22.2" height="22.2"/>
<rect x="641.9" y="655.5" width="22.2" height="22.2"/>
<rect x="450.1" y="659.3" width="22.2" height="22.2"/>
<rect x="542.2" y="659.3" width="22.2" height="22.2"/>
<rect x="546.0" y="659.3" width="22.2" height="22.2"/>
<rect x="549.9" y="659.3" width="22.2" height="22.2"/>
<rect x="553.7" y="659.3" width="22.2" height="22.2"/>
<rect x="557.5" y="659.3" width="22.2" height="22.2"/>
<rect x="542.2" y="663.2" width="22.2" height="22.2"/>
<rect x="546.0" y="663.2" width="22.2" height="22.2"/>
<rect x="549.9" y="663.2" width="22.2" height="22.2"/>
<rect x="553.7" y="663.2" width="22.2" height="22.2"/>
<rect x="557.5" y="663.2" width="22.2" height="22.2"/>
<rect x="569.0" y="663.2" width="22.2" height="22.2"/>
<rect x="641.9" y="663.2" width="22.2" height="22.2"/>
<rect x="542.2" y="667.0" width="22.2" height="22.2"/>
<rect x="546.0" y="667.0" width="22.2" height="22.2"/>
<rect x="549.9" y="667.0" width="22.2" height="22.2"/>
<rect x="553.7" y="667.0" width="22.2" height="22.2"/>
<rect x="557.5" y="667.0" width="22.2" height="22.2"/>
<rect x="546.0" y="670.8" width="22.2" height="22.2"/>
<rect x="549.9" y="670.8" width="22.2" height="22.2"/>
<rect x="553.7" y="670.8" width="22.2" height="22.2"/>
<rect x="569.0" y="670.8" width="22.2" height="22.2"/>
<rect x="626.6" y="682.3" width="22.2" height="22.2"/>
<rect x="638.1" y="682.3" width="22.2" height="22.2"/>
<rect x="641.9" y="682.3" width="22.2" height="22.2"/>
<rect x="438.6" y="686.2" width="22.2" height="22.2"/>
<rect x="442.5" y="686.2" width="22.2" height="22.2"/>
<rect x="653.4" y="686.2" width="22.2" height="22.2"/>
<rect x="442.5" y="690.0" width="22.2" height="22.2"/>
<rect x="557.5" y="690.0" width="22.2" height="22.2"/>
<rect x="638.1" y="690.0" width="22.2" height="22.2"/>
<rect x="641.9" y="690.0" width="22.2" height="22.2"/>
<rect x="649.6" y="690.0" width="22.2" height="22.2"/>
<rect x="653.4" y="690.0" width="22.2" height="22.2"/>
<rect x="657.3" y="690.0" width="22.2" height="22.2"/>
<rect x="668.8" y="690.0" width="22.2" height="22.2"/>
<rect x="442.5" y="693.8" width="22.2" height="22.2"/>
<rect x="446.3" y="693.8" width="22.2" height="22.2"/>
<rect x="450.1" y="693.8" width="22.2" height="22.2"/>
<rect x="534.5" y="693.8" width="22.2" height="22.2"/>
<rect x="542.2" y="693.8" width="22.2" height="22.2"/>
<rect x="668.8" y="693.8" width="22.2" height="22.2"/>
<rect x="442.5" y="697.7" width="22.2" height="22.2"/>
<rect x="446.3" y="697.7" width="22.2" height="22.2"/>
<rect x="450.1" y="697.7" width="22.2" height="22.2"/>
<rect x="657.3" y="697.7" width="22.2" height="22.2"/>
<rect x="668.8" y="697.7" width="22.2" height="22.2"/>
<rect x="672.6" y="697.7" width="22.2" height="22.2"/>
<rect x="684.1" y="697.7" width="22.2" height="22.2"/>
<rect x="446.3" y="701.5" width="22.2" height="22.2"/>
<rect x="450.1" y="701.5" width="22.2" height="22.2"/>
<rect x="530.7" y="701.5" width="22.2" height="22.2"/>
<rect x="542.2" y="701.5" width="22.2" height="22.2"/>
<rect x="400.3" y="709.2" width="22.2" height="22.2"/>
<rect x="411.8" y="709.2" width="22.2" height="22.2"/>
<rect x="415.6" y="709.2" width="22.2" height="22.2"/>
<rect x="285.2" y="713.0" width="22.2" height="22.2"/>
<rect x="396.5" y="713.0" width="22.2" height="22.2"/>
<rect x="400.3" y="713.0" width="22.2" height="22.2"/>
<rect x="714.8" y="716.8" width="22.2" height="22.2"/>
<rect x="396.5" y="720.7" width="22.2" height="22.2"/>
<rect x="400.3" y="720.7" width="22.2" height="22.2"/>
<rect x="411.8" y="720.7" width="22.2" height="22.2"/>
<rect x="684.1" y="720.7" width="22.2" height="22.2"/>
<rect x="707.1" y="720.7" width="22.2" height="22.2"/>
<rect x="711.0" y="720.7" width="22.2" height="22.2"/>
<rect x="714.8" y="720.7" width="22.2" height="22.2"/>
<rect x="718.6" y="720.7" width="22.2" height="22.2"/>
<rect x="396.5" y="724.5" width="22.2" height="22.2"/>
<rect x="707.1" y="724.5" width="22.2" height="22.2"/>
<rect x="711.0" y="724.5" width="22.2" height="22.2"/>
<rect x="714.8" y="724.5" width="22.2" height="22.2"/>
<rect x="718.6" y="724.5" width="22.2" height="22.2"/>
<rect x="411.8" y="728.4" width="22.2" height="22.2"/>
<rect x="699.5" y="728.4" width="22.2" height="22.2"/>
<rect x="703.3" y="728.4" width="22.2" height="22.2"/>
<rect x="707.1" y="728.4" width="22.2" height="22.2"/>
<rect x="711.0" y="728.4" width="22.2" height="22.2"/>
<rect x="703.3" y="732.2" width="22.2" height="22.2"/>
<rect x="707.1" y="732.2" width="22.2" height="22.2"/>
<rect x="711.0" y="732.2" width="22.2" height="22.2"/>
<rect x="718.6" y="770.5" width="22.2" height="22.2"/>
<rect x="722.5" y="770.5" width="22.2" height="22.2"/>
<rect x="718.6" y="774.4" width="22.2" height="22.2"/>
<rect x="722.5" y="774.4" width="22.2" height="22.2"/>
<rect x="726.3" y="774.4" width="22.2" height="22.2"/>
<rect x="722.5" y="778.2" width="22.2" height="22.2"/>
<rect x="726.3" y="778.2" width="22.2" height="22.2"/>
<rect x="730.1" y="778.2" width="22.2" height="22.2"/>
<rect x="722.5" y="785.9" width="22.2" height="22.2"/>
<rect x="726.3" y="785.9" width="22.2" height="22.2"/>
<rect x="730.1" y="785.9" width="22.2" height="22.2"/>
<rect x="722.5" y="789.7" width="22.2" height="22.2"/>
<rect x="726.3" y="789.7" width="22.2" height="22.2"/>
<rect x="730.1" y="789.7" width="22.2" height="22.2"/>
<rect x="829.9" y="831.9" width="22.2" height="22.2"/>
<rect x="822.2" y="835.8" width="22.2" height="22.2"/>
<rect x="711.0" y="839.6" width="22.2" height="22.2"/>
<rect x="822.2" y="839.6" width="22.2" height="22.2"/>
<rect x="672.6" y="843.4" width="22.2" height="22.2"/>
<rect x="687.9" y="843.4" width="22.2" height="22.2"/>
<rect x="691.8" y="843.4" width="22.2" height="22.2"/>
<rect x="695.6" y="843.4" width="22.2" height="22.2"/>
<rect x="703.3" y="843.4" width="22.2" height="22.2"/>
<rect x="822.2" y="843.4" width="22.2" height="22.2"/>
<rect x="714.8" y="851.1" width="22.2" height="22.2"/>
<rect x="718.6" y="851.1" width="22.2" height="22.2"/>
<rect x="672.6" y="854.9" width="22.2" height="22.2"/>
<rect x="687.9" y="854.9" width="22.2" height="22.2"/>
<rect x="691.8" y="854.9" width="22.2" height="22.2"/>
<rect x="695.6" y="854.9" width="22.2" height="22.2"/>
<rect x="711.0" y="854.9" width="22.2" height="22.2"/>
<rect x="714.8" y="854.9" width="22.2" height="22.2"/>
<rect x="718.6" y="854.9" width="22.2" height="22.2"/>
<rect x="726.3" y="854.9" width="22.2" height="22.2"/>
<rect x="714.8" y="866.4" width="22.2" height="22.2"/>
<rect x="718.6" y="866.4" width="22.2" height="22.2"/>
<rect x="722.5" y="866.4" width="22.2" height="22.2"/>
<rect x="726.3" y="866.4" width="22.2" height="22.2"/>
<rect x="730.1" y="866.4" width="22.2" height="22.2"/>
<rect x="864.4" y="866.4" width="22.2" height="22.2"/>
<rect x="645.8" y="870.3" width="22.2" height="22.2"/>
<rect x="657.3" y="870.3" width="22.2" height="22.2"/>
<rect x="661.1" y="870.3" width="22.2" height="22.2"/>
<rect x="672.6" y="870.3" width="22.2" height="22.2"/>
<rect x="722.5" y="870.3" width="22.2" height="22.2"/>
<rect x="726.3" y="870.3" width="22.2" height="22.2"/>
<rect x="730.1" y="870.3" width="22.2" height="22.2"/>
<rect x="875.9" y="877.9" width="22.2" height="22.2"/>
<rect x="557.5" y="881.8" width="22.2" height="22.2"/>
<rect x="645.8" y="881.8" width="22.2" height="22.2"/>
<rect x="657.3" y="881.8" width="22.2" height="22.2"/>
<rect x="726.3" y="881.8" width="22.2" height="22.2"/>
<rect x="730.1" y="881.8" width="22.2" height="22.2"/>
<rect x="734.0" y="881.8" width="22.2" height="22.2"/>
<rect x="745.5" y="881.8" width="22.2" height="22.2"/>
<rect x="879.7" y="881.8" width="22.2" height="22.2"/>
<rect x="630.4" y="885.6" width="22.2" height="22.2"/>
<rect x="645.8" y="885.6" width="22.2" height="22.2"/>
<rect x="572.9" y="893.3" width="22.2" height="22.2"/>
<rect x="734.0" y="893.3" width="22.2" height="22.2"/>
<rect x="875.9" y="893.3" width="22.2" height="22.2"/>
<rect x="557.5" y="897.1" width="22.2" height="22.2"/>
<rect x="572.9" y="897.1" width="22.2" height="22.2"/>
<rect x="611.2" y="897.1" width="22.2" height="22.2"/>
<rect x="626.6" y="897.1" width="22.2" height="22.2"/>
<rect x="630.4" y="897.1" width="22.2" height="22.2"/>
<rect x="641.9" y="897.1" width="22.2" height="22.2"/>
<rect x="645.8" y="897.1" width="22.2" height="22.2"/>
<rect x="607.4" y="901.0" width="22.2" height="22.2"/>
<rect x="626.6" y="901.0" width="22.2" height="22.2"/>
<rect x="630.4" y="901.0" width="22.2" height="22.2"/>
<rect x="572.9" y="908.6" width="22.2" height="22.2"/>
<rect x="584.4" y="908.6" width="22.2" height="22.2"/>
<rect x="607.4" y="908.6" width="22.2" height="22.2"/>
<rect x="611.2" y="908.6" width="22.2" height="22.2"/>
<rect x="588.2" y="912.5" width="22.2" height="22.2"/>
<rect x="875.9" y="916.3" width="22.2" height="22.2"/>
<rect x="875.9" y="920.1" width="22.2" height="22.2"/>
<rect x="875.9" y="924.0" width="22.2" height="22.2"/>
<rect x="875.9" y="927.8" width="22.2" height="22.2"/>
<rect x="872.1" y="931.6" width="22.2" height="22.2"/>
<rect x="875.9" y="931.6" width="22.2" height="22.2"/>
<rect x="872.1" y="935.5" width="22.2" height="22.2"/>
<rect x="875.9" y="935.5" width="22.2" height="22.2"/>
<rect x="872.1" y="943.1" width="22.2" height="22.2"/>
<rect x="875.9" y="943.1" width="22.2" height="22.2"/>
<rect x="883.6" y="943.1" width="22.2" height="22.2"/>
<rect x="902.7" y="943.1" width="22.2" height="22.2"/>
<rect x="872.1" y="954.7" width="22.2" height="22.2"/>
<rect x="875.9" y="954.7" width="22.2" height="22.2"/>
<rect x="883.6" y="954.7" width="22.2" height="22.2"/>
<rect x="891.2" y="954.7" width="22.2" height="22.2"/>
<rect x="902.7" y="954.7" width="22.2" height="22.2"/>
<rect x="902.7" y="958.5" width="22.2" height="22.2"/>
<rect x="891.2" y="970.0" width="22.2" height="22.2"/>
<rect x="891.2" y="996.8" width="22.2" height="22.2"/>
<rect x="906.6" y="1016.0" width="22.2" height="22.2"/>
<rect x="895.1" y="1023.7" width="22.2" height="22.2"/>
<rect x="891.2" y="1027.5" width="22.2" height="22.2"/>
<rect x="906.6" y="1027.5" width="22.2" height="22.2"/>
<rect x="910.4" y="1027.5" width="22.2" height="22.2"/>
<rect x="914.2" y="1027.5" width="22.2" height="22.2"/>
<rect x="895.1" y="1031.4" width="22.2" height="22.2"/>
<rect x="906.6" y="1031.4" width="22.2" height="22.2"/>
<rect x="910.4" y="1031.4" width="22.2" height="22.2"/>
<rect x="914.2" y="1031.4" width="22.2" height="22.2"/>
<rect x="906.6" y="1039.0" width="22.2" height="22.2"/>
<rect x="910.4" y="1039.0" width="22.2" height="22.2"/>
<rect x="914.2" y="1039.0" width="22.2" height="22.2"/>
<rect x="906.6" y="1042.9" width="22.2" height="22.2"/>
<rect x="1048.5" y="1062.0" width="22.2" height="22.2"/>
<rect x="1063.8" y="1065.9" width="22.2" height="22.2"/>
<rect x="1063.8" y="1073.6" width="22.2" height="22.2"/>
<rect x="1067.7" y="1073.6" width="22.2" height="22.2"/>
<rect x="1067.7" y="1081.2" width="22.2" height="22.2"/>
<rect x="1071.5" y="1081.2" width="22.2" height="22.2"/>
<rect x="1075.3" y="1081.2" width="22.2" height="22.2"/>
<rect x="1079.2" y="1081.2" width="22.2" height="22.2"/>
<rect x="1067.7" y="1085.1" width="22.2" height="22.2"/>
<rect x="1071.5" y="1085.1" width="22.2" height="22.2"/>
<rect x="1075.3" y="1085.1" width="22.2" height="22.2"/>
<rect x="1079.2" y="1085.1" width="22.2" height="22.2"/>
<rect x="1071.5" y="1092.7" width="22.2" height="22.2"/>
<rect x="979.4" y="1104.2" width="22.2" height="22.2"/>
<rect x="991.0" y="1104.2" width="22.2" height="22.2"/>
<rect x="994.8" y="1104.2" width="22.2" height="22.2"/>
<rect x="1010.1" y="1104.2" width="22.2" height="22.2"/>
<rect x="1071.5" y="1104.2" width="22.2" height="22.2"/>
<rect x="979.4" y="1108.1" width="22.2" height="22.2"/>
<rect x="991.0" y="1108.1" width="22.2" height="22.2"/>
<rect x="994.8" y="1108.1" width="22.2" height="22.2"/>
<rect x="607.4" y="1111.9" width="22.2" height="22.2"/>
<rect x="607.4" y="1119.6" width="22.2" height="22.2"/>
<rect x="991.0" y="1123.4" width="22.2" height="22.2"/>
<rect x="618.9" y="1127.2" width="22.2" height="22.2"/>
<rect x="991.0" y="1131.1" width="22.2" height="22.2"/>
<rect x="618.9" y="1138.8" width="22.2" height="22.2"/>
<rect x="630.4" y="1138.8" width="22.2" height="22.2"/>
<rect x="975.6" y="1138.8" width="22.2" height="22.2"/>
<rect x="991.0" y="1138.8" width="22.2" height="22.2"/>
<rect x="964.1" y="1154.1" width="22.2" height="22.2"/>
<rect x="975.6" y="1154.1" width="22.2" height="22.2"/>
<rect x="979.4" y="1154.1" width="22.2" height="22.2"/>
<rect x="991.0" y="1154.1" width="22.2" height="22.2"/>
<rect x="975.6" y="1157.9" width="22.2" height="22.2"/>
<rect x="948.8" y="1165.6" width="22.2" height="22.2"/>
<rect x="952.6" y="1165.6" width="22.2" height="22.2"/>
<rect x="960.3" y="1165.6" width="22.2" height="22.2"/>
<rect x="964.1" y="1165.6" width="22.2" height="22.2"/>
<rect x="967.9" y="1165.6" width="22.2" height="22.2"/>
<rect x="975.6" y="1165.6" width="22.2" height="22.2"/>
<rect x="979.4" y="1165.6" width="22.2" height="22.2"/>
<rect x="964.1" y="1169.4" width="22.2" height="22.2"/>
<rect x="979.4" y="1169.4" width="22.2" height="22.2"/>
<rect x="1010.1" y="1169.4" width="22.2" height="22.2"/>
<rect x="1071.5" y="1169.4" width="22.2" height="22.2"/>
<rect x="1075.3" y="1169.4" width="22.2" height="22.2"/>
<rect x="1075.3" y="1173.3" width="22.2" height="22.2"/>
<rect x="891.2" y="1177.1" width="22.2" height="22.2"/>
<rect x="1075.3" y="1177.1" width="22.2" height="22.2"/>
<rect x="1086.8" y="1177.1" width="22.2" height="22.2"/>
<rect x="1090.7" y="1177.1" width="22.2" height="22.2"/>
<rect x="1098.3" y="1177.1" width="22.2" height="22.2"/>
<rect x="1102.2" y="1177.1" width="22.2" height="22.2"/>
<rect x="1106.0" y="1177.1" width="22.2" height="22.2"/>
<rect x="1113.7" y="1177.1" width="22.2" height="22.2"/>
<rect x="1117.5" y="1177.1" width="22.2" height="22.2"/>
<rect x="1098.3" y="1180.9" width="22.2" height="22.2"/>
<rect x="1102.2" y="1180.9" width="22.2" height="22.2"/>
<rect x="1106.0" y="1180.9" width="22.2" height="22.2"/>
<rect x="1117.5" y="1180.9" width="22.2" height="22.2"/>
<rect x="887.4" y="1184.8" width="22.2" height="22.2"/>
<rect x="895.1" y="1184.8" width="22.2" height="22.2"/>
<rect x="925.8" y="1184.8" width="22.2" height="22.2"/>
<rect x="929.6" y="1184.8" width="22.2" height="22.2"/>
<rect x="937.3" y="1184.8" width="22.2" height="22.2"/>
<rect x="941.1" y="1184.8" width="22.2" height="22.2"/>
<rect x="948.8" y="1184.8" width="22.2" height="22.2"/>
<rect x="1117.5" y="1184.8" width="22.2" height="22.2"/>
<rect x="937.3" y="1188.6" width="22.2" height="22.2"/>
<rect x="941.1" y="1188.6" width="22.2" height="22.2"/>
<rect x="1113.7" y="1188.6" width="22.2" height="22.2"/>
<rect x="937.3" y="1196.3" width="22.2" height="22.2"/>
<rect x="948.8" y="1196.3" width="22.2" height="22.2"/>
<rect x="952.6" y="1196.3" width="22.2" height="22.2"/>
<rect x="948.8" y="1200.1" width="22.2" height="22.2"/>
<rect x="676.4" y="1204.0" width="22.2" height="22.2"/>
<rect x="687.9" y="1204.0" width="22.2" height="22.2"/>
<rect x="691.8" y="1204.0" width="22.2" height="22.2"/>
<rect x="948.8" y="1204.0" width="22.2" height="22.2"/>
<rect x="661.1" y="1207.8" width="22.2" height="22.2"/>
<rect x="664.9" y="1207.8" width="22.2" height="22.2"/>
<rect x="668.8" y="1207.8" width="22.2" height="22.2"/>
<rect x="672.6" y="1207.8" width="22.2" height="22.2"/>
<rect x="676.4" y="1207.8" width="22.2" height="22.2"/>
<rect x="687.9" y="1207.8" width="22.2" height="22.2"/>
<rect x="691.8" y="1207.8" width="22.2" height="22.2"/>
<rect x="944.9" y="1207.8" width="22.2" height="22.2"/>
<rect x="948.8" y="1207.8" width="22.2" height="22.2"/>
<rect x="960.3" y="1207.8" width="22.2" height="22.2"/>
<rect x="672.6" y="1211.6" width="22.2" height="22.2"/>
<rect x="676.4" y="1211.6" width="22.2" height="22.2"/>
<rect x="687.9" y="1211.6" width="22.2" height="22.2"/>
<rect x="691.8" y="1211.6" width="22.2" height="22.2"/>
<rect x="645.8" y="1219.3" width="22.2" height="22.2"/>
<rect x="664.9" y="1219.3" width="22.2" height="22.2"/>
<rect x="948.8" y="1219.3" width="22.2" height="22.2"/>
<rect x="960.3" y="1219.3" width="22.2" height="22.2"/>
<rect x="649.6" y="1223.1" width="22.2" height="22.2"/>
<rect x="661.1" y="1223.1" width="22.2" height="22.2"/>
<rect x="664.9" y="1223.1" width="22.2" height="22.2"/>
<rect x="676.4" y="1223.1" width="22.2" height="22.2"/>
<rect x="1224.9" y="1230.8" width="22.2" height="22.2"/>
<rect x="1224.9" y="1234.6" width="22.2" height="22.2"/>
<rect x="1228.8" y="1234.6" width="22.2" height="22.2"/>
<rect x="634.3" y="1238.5" width="22.2" height="22.2"/>
<rect x="649.6" y="1238.5" width="22.2" height="22.2"/>
<rect x="1217.2" y="1238.5" width="22.2" height="22.2"/>
<rect x="1228.8" y="1238.5" width="22.2" height="22.2"/>
<rect x="1236.4" y="1238.5" width="22.2" height="22.2"/>
<rect x="634.3" y="1242.3" width="22.2" height="22.2"/>
<rect x="649.6" y="1242.3" width="22.2" height="22.2"/>
<rect x="1224.9" y="1246.1" width="22.2" height="22.2"/>
<rect x="622.7" y="1250.0" width="22.2" height="22.2"/>
<rect x="634.3" y="1250.0" width="22.2" height="22.2"/>
<rect x="638.1" y="1250.0" width="22.2" height="22.2"/>
<rect x="641.9" y="1250.0" width="22.2" height="22.2"/>
<rect x="649.6" y="1250.0" width="22.2" height="22.2"/>
<rect x="634.3" y="1253.8" width="22.2" height="22.2"/>
<rect x="649.6" y="1253.8" width="22.2" height="22.2"/>
<rect x="622.7" y="1273.0" width="22.2" height="22.2"/>
<rect x="622.7" y="1276.8" width="22.2" height="22.2"/>
<rect x="622.7" y="1280.7" width="22.2" height="22.2"/>
<rect x="772.3" y="1280.7" width="22.2" height="22.2"/>
<rect x="615.1" y="1284.5" width="22.2" height="22.2"/>
<rect x="622.7" y="1284.5" width="22.2" height="22.2"/>
<rect x="764.7" y="1288.3" width="22.2" height="22.2"/>
<rect x="764.7" y="1296.0" width="22.2" height="22.2"/>
<rect x="768.5" y="1296.0" width="22.2" height="22.2"/>
<rect x="772.3" y="1296.0" width="22.2" height="22.2"/>
<rect x="638.1" y="1303.7" width="22.2" height="22.2"/>
<rect x="768.5" y="1303.7" width="22.2" height="22.2"/>
<rect x="772.3" y="1303.7" width="22.2" height="22.2"/>
<rect x="438.6" y="1307.5" width="22.2" height="22.2"/>
<rect x="638.1" y="1307.5" width="22.2" height="22.2"/>
<rect x="653.4" y="1307.5" width="22.2" height="22.2"/>
<rect x="768.5" y="1307.5" width="22.2" height="22.2"/>
<rect x="772.3" y="1307.5" width="22.2" height="22.2"/>
<rect x="776.2" y="1307.5" width="22.2" height="22.2"/>
<rect x="438.6" y="1311.4" width="22.2" height="22.2"/>
<rect x="649.6" y="1315.2" width="22.2" height="22.2"/>
<rect x="438.6" y="1322.9" width="22.2" height="22.2"/>
<rect x="664.9" y="1326.7" width="22.2" height="22.2"/>
<rect x="676.4" y="1338.2" width="22.2" height="22.2"/>
<rect x="691.8" y="1338.2" width="22.2" height="22.2"/>
<rect x="695.6" y="1338.2" width="22.2" height="22.2"/>
<rect x="434.8" y="1342.0" width="22.2" height="22.2"/>
<rect x="664.9" y="1342.0" width="22.2" height="22.2"/>
<rect x="680.3" y="1342.0" width="22.2" height="22.2"/>
<rect x="691.8" y="1342.0" width="22.2" height="22.2"/>
<rect x="695.6" y="1342.0" width="22.2" height="22.2"/>
<rect x="1301.6" y="1342.0" width="22.2" height="22.2"/>
<rect x="1301.6" y="1345.9" width="22.2" height="22.2"/>
<rect x="691.8" y="1349.7" width="22.2" height="22.2"/>
<rect x="695.6" y="1349.7" width="22.2" height="22.2"/>
<rect x="676.4" y="1353.5" width="22.2" height="22.2"/>
<rect x="691.8" y="1353.5" width="22.2" height="22.2"/>
<rect x="695.6" y="1353.5" width="22.2" height="22.2"/>
<rect x="1294.0" y="1353.5" width="22.2" height="22.2"/>
<rect x="1294.0" y="1357.4" width="22.2" height="22.2"/>
<rect x="1301.6" y="1357.4" width="22.2" height="22.2"/>
<rect x="1305.5" y="1357.4" width="22.2" height="22.2"/>
<rect x="1301.6" y="1372.7" width="22.2" height="22.2"/>
<rect x="1313.1" y="1372.7" width="22.2" height="22.2"/>
<rect x="1317.0" y="1372.7" width="22.2" height="22.2"/>
<rect x="1317.0" y="1384.2" width="22.2" height="22.2"/>
<rect x="1301.6" y="1388.1" width="22.2" height="22.2"/>
<rect x="1313.1" y="1388.1" width="22.2" height="22.2"/>
<rect x="1317.0" y="1388.1" width="22.2" height="22.2"/>
<rect x="1347.7" y="1395.7" width="22.2" height="22.2"/>
<rect x="1355.3" y="1395.7" width="22.2" height="22.2"/>
<rect x="1355.3" y="1403.4" width="22.2" height="22.2"/>
</g>
<g class="tr">
<path d="M530.3 254.0L545.4 280.3L515.1 280.3Z"/>
<path d="M534.1 254.0L549.3 280.3L519.0 280.3Z"/>
<path d="M538.0 254.0L553.1 280.3L522.8 280.3Z"/>
<path d="M530.3 257.9L545.4 284.1L515.1 284.1Z"/>
<path d="M534.1 257.9L549.3 284.1L519.0 284.1Z"/>
<path d="M530.3 261.7L545.4 287.9L515.1 287.9Z"/>
<path d="M541.8 250.2L556.9 276.4L526.6 276.4Z"/>
<path d="M538.0 246.4L553.1 272.6L522.8 272.6Z"/>
<path d="M538.0 250.2L553.1 276.4L522.8 276.4Z"/>
<path d="M691.4 330.7L706.5 357.0L676.2 357.0Z"/>
<path d="M695.2 330.7L710.4 357.0L680.1 357.0Z"/>
<path d="M679.9 338.4L695.0 364.7L664.7 364.7Z"/>
<path d="M691.4 338.4L706.5 364.7L676.2 364.7Z"/>
<path d="M679.9 346.1L695.0 372.3L664.7 372.3Z"/>
<path d="M760.4 445.8L775.6 472.1L745.3 472.1Z"/>
<path d="M764.3 545.5L779.4 571.8L749.1 571.8Z"/>
<path d="M791.1 557.0L806.3 583.3L775.9 583.3Z"/>
<path d="M791.1 560.9L806.3 587.1L775.9 587.1Z"/>
<path d="M798.8 572.4L813.9 598.6L783.6 598.6Z"/>
<path d="M833.3 606.9L848.4 633.1L818.1 633.1Z"/>
<path d="M829.5 606.9L844.6 633.1L814.3 633.1Z"/>
<path d="M821.8 610.7L836.9 637.0L806.6 637.0Z"/>
<path d="M825.6 610.7L840.8 637.0L810.5 637.0Z"/>
<path d="M829.5 610.7L844.6 637.0L814.3 637.0Z"/>
<path d="M825.6 614.6L840.8 640.8L810.5 640.8Z"/>
<path d="M821.8 614.6L836.9 640.8L806.6 640.8Z"/>
<path d="M821.8 618.4L836.9 644.6L806.6 644.6Z"/>
<path d="M817.9 618.4L833.1 644.6L802.8 644.6Z"/>
<path d="M1324.2 564.7L1339.4 591.0L1309.1 591.0Z"/>
<path d="M1339.6 537.9L1354.7 564.1L1324.4 564.1Z"/>
<path d="M1266.7 852.4L1281.9 878.6L1251.5 878.6Z"/>
<path d="M1308.9 852.4L1324.0 878.6L1293.7 878.6Z"/>
<path d="M1255.2 867.7L1270.4 894.0L1240.0 894.0Z"/>
<path d="M1266.7 867.7L1281.9 894.0L1251.5 894.0Z"/>
<path d="M1270.5 867.7L1285.7 894.0L1255.4 894.0Z"/>
</g>
<rect class="ln" x="120" y="29.9" width="1450.3" height="1449.9" stroke-linejoin="round"/>
<path class="ln" d="M120 79.75V1422.17"/>
<path class="ln" d="M169.75 1479.8H1512.17"/>
<path class="ln" d="M169.75 1479.8V1509.6"/>
<path class="ln" d="M120 79.75H90"/>
<text class="ax" transform="translate(168.45 1588.3) scale(1 1.04)" text-anchor="middle">0</text>
<text class="ax" transform="translate(48.9 80.85) rotate(-90) scale(1 1.045)" text-anchor="middle">0</text>
<path class="ln" d="M361.52 1479.8V1509.6"/>
<path class="ln" d="M120 271.52H90"/>
<text class="ax" transform="translate(360.22 1588.3) scale(1 1.04)" text-anchor="middle">50</text>
<text class="ax" transform="translate(48.9 272.62) rotate(-90) scale(1 1.045)" text-anchor="middle">50</text>
<path class="ln" d="M553.30 1479.8V1509.6"/>
<path class="ln" d="M120 463.30H90"/>
<text class="ax" transform="translate(552.00 1588.3) scale(1 1.04)" text-anchor="middle">100</text>
<text class="ax" transform="translate(48.9 464.40) rotate(-90) scale(1 1.045)" text-anchor="middle">100</text>
<path class="ln" d="M745.08 1479.8V1509.6"/>
<path class="ln" d="M120 655.08H90"/>
<text class="ax" transform="translate(743.78 1588.3) scale(1 1.04)" text-anchor="middle">150</text>
<text class="ax" transform="translate(48.9 656.18) rotate(-90) scale(1 1.045)" text-anchor="middle">150</text>
<path class="ln" d="M936.85 1479.8V1509.6"/>
<path class="ln" d="M120 846.85H90"/>
<text class="ax" transform="translate(935.55 1588.3) scale(1 1.04)" text-anchor="middle">200</text>
<text class="ax" transform="translate(48.9 847.95) rotate(-90) scale(1 1.045)" text-anchor="middle">200</text>
<path class="ln" d="M1128.62 1479.8V1509.6"/>
<path class="ln" d="M120 1038.62H90"/>
<text class="ax" transform="translate(1127.33 1588.3) scale(1 1.04)" text-anchor="middle">250</text>
<text class="ax" transform="translate(48.9 1039.72) rotate(-90) scale(1 1.045)" text-anchor="middle">250</text>
<path class="ln" d="M1320.40 1479.8V1509.6"/>
<path class="ln" d="M120 1230.40H90"/>
<text class="ax" transform="translate(1319.10 1588.3) scale(1 1.04)" text-anchor="middle">300</text>
<text class="ax" transform="translate(48.9 1231.50) rotate(-90) scale(1 1.045)" text-anchor="middle">300</text>
<path class="ln" d="M1512.17 1479.8V1509.6"/>
<path class="ln" d="M120 1422.17H90"/>
<text class="ax" transform="translate(1510.88 1588.3) scale(1 1.04)" text-anchor="middle">350</text>
<text class="ax" transform="translate(48.9 1423.27) rotate(-90) scale(1 1.045)" text-anchor="middle">350</text>
<path d="M1202.4 72.6L1217.6 98.8L1187.2 98.8Z" fill="none" stroke="#f00" stroke-width="3.2" stroke-linejoin="round"/>
<rect x="1191.6" y="138.8" width="22.2" height="22.2" fill="none" stroke="#00f" stroke-width="3.2" stroke-linejoin="round"/>
<text class="lg" x="1247.5" y="107.8">DNCON2-RR</text>
<text class="lg" x="1247.5" y="167.9">Model-RR</text>
<text transform="translate(200 1451.3) scale(1 1.06)" font-size="100px" style="font-kerning:none">Top-L/10</text>
</svg></body></html>
